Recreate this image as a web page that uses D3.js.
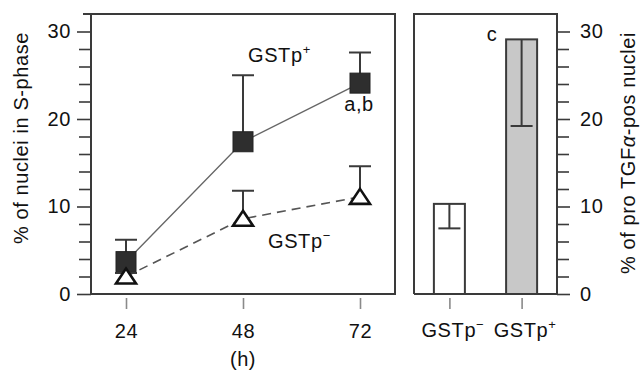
<!DOCTYPE html>
<html>
<head>
<meta charset="utf-8">
<script src="https://cdn.jsdelivr.net/npm/d3@7"></script>
<style>
  body { margin: 0; background: #fff; }
  svg text { font-family: "Liberation Sans", Arial, sans-serif; fill: #111; letter-spacing: 0.6px; }
</style>
</head>
<body>
<svg id="chart" width="640" height="372"></svg>
<script>
// time course (h) and S-phase values
const hours = [24, 48, 72];
const posMean = [3.7, 17.4, 24.1];   // GSTp+
const posUpper = [6.2, 25.0, 27.6];
const negMean = [2.0, 8.6, 11.1];    // GSTp-
const negUpper = [2.4, 11.8, 14.6];
// bar panel
const groups = ['GSTp−', 'GSTp+'];
const barMean = [10.3, 29.1];
const barLower = [7.5, 19.2];
const majorTicks = [0, 10, 20, 30];
const minorTicks = [2, 4, 6, 8, 12, 14, 16, 18, 22, 24, 26, 28];

const svg = d3.select('#chart');
const [yTop, yBottom] = [14, 294];
const y = d3.scaleLinear().domain([0, 32]).range([yBottom, yTop]);
const x = d3.scaleLinear().domain([24, 72]).range([126, 360]);
const xb = d3.scalePoint().domain(groups).range([414, 557]).padding(0.49);
const frame = '#3a3a3a';
const fs = 20;

// left y axis (minor + major)
const yl = svg.append('g').attr('transform', 'translate(91,0)');
yl.append('g').call(d3.axisLeft(y).tickValues(minorTicks).tickSize(12).tickFormat(''));
yl.append('g').call(d3.axisLeft(y).tickValues(majorTicks).tickSize(14).tickPadding(6));
// right y axis
const yr = svg.append('g').attr('transform', 'translate(557,0)');
yr.append('g').call(d3.axisRight(y).tickValues(minorTicks).tickSize(12).tickFormat(''));
yr.append('g').call(d3.axisRight(y).tickValues(majorTicks).tickSize(13).tickPadding(10));
svg.selectAll('.domain').remove();
svg.selectAll('.tick line').attr('stroke', frame).attr('stroke-width', 1.6);
svg.selectAll('.tick text').attr('font-size', fs).attr('font-family', null);

// bottom x ticks (grey)
const xa = svg.append('g').attr('transform', `translate(0,${yBottom + 4})`);
xa.call(d3.axisBottom(x).tickValues(hours).tickSize(11).tickPadding(15));
const xba = svg.append('g').attr('transform', `translate(0,${yBottom + 4})`);
xba.call(d3.axisBottom(xb).tickSize(11).tickPadding(15).tickFormat(''));
[xa, xba].forEach(g => {
  g.select('.domain').remove();
  g.selectAll('.tick line').attr('stroke', '#8a8a8a').attr('stroke-width', 1.6);
  g.selectAll('.tick text').attr('font-size', fs).attr('font-family', null);
});
// category labels with superscripts
xba.selectAll('.tick').append('text')
  .attr('y', 39).attr('x', 3).attr('text-anchor', 'middle').attr('font-size', fs)
  .each(function (d) {
    const t = d3.select(this);
    t.append('tspan').text('GSTp');
    t.append('tspan').attr('dy', -8).attr('font-size', 13).text(d.slice(-1));
  });

// panel frames
svg.append('path')
  .attr('d', `M83,${yTop}H395V${yBottom}H91V${yTop}`)
  .attr('fill', 'none').attr('stroke', frame).attr('stroke-width', 2);
svg.append('path')
  .attr('d', `M414,${yBottom}V${yTop}H557V${yBottom}H414`)
  .attr('fill', 'none').attr('stroke', frame).attr('stroke-width', 2);

// lines
const pos = hours.map((h, i) => [h, posMean[i]]);
const neg = hours.map((h, i) => [h, negMean[i]]);
const line = d3.line().x(d => x(d[0])).y(d => y(d[1]));
svg.append('path').attr('d', line(pos)).attr('fill', 'none')
  .attr('stroke', '#666').attr('stroke-width', 1.4);
svg.append('path').attr('d', line(neg)).attr('fill', 'none')
  .attr('stroke', '#555').attr('stroke-width', 1.6).attr('stroke-dasharray', '9,6');

// error bars (upper only)
function errUp(means, uppers) {
  hours.forEach((h, i) => {
    const cx = x(h);
    svg.append('line').attr('x1', cx).attr('x2', cx)
      .attr('y1', y(means[i])).attr('y2', y(uppers[i]))
      .attr('stroke', frame).attr('stroke-width', 2);
    svg.append('line').attr('x1', cx - 11).attr('x2', cx + 11)
      .attr('y1', y(uppers[i])).attr('y2', y(uppers[i]))
      .attr('stroke', frame).attr('stroke-width', 2);
  });
}
errUp(posMean, posUpper);
errUp(negMean, negUpper);

// markers
svg.selectAll('rect.pos').data(pos).join('rect').attr('class', 'pos')
  .attr('x', d => x(d[0]) - 10).attr('y', d => y(d[1]) - 10)
  .attr('width', 20).attr('height', 20)
  .attr('fill', '#2e2e2e').attr('stroke', '#222').attr('stroke-width', 1);
svg.selectAll('path.neg').data(neg).join('path').attr('class', 'neg')
  .attr('d', d => {
    const cx = x(d[0]), cy = y(d[1]);
    return `M${cx},${cy - 8}L${cx + 10},${cy + 7}L${cx - 10},${cy + 7}Z`;
  })
  .attr('fill', '#fff').attr('stroke', '#111').attr('stroke-width', 2.6)
  .attr('stroke-linejoin', 'miter');

// bars
svg.selectAll('rect.bar').data(groups).join('rect').attr('class', 'bar')
  .attr('x', d => xb(d) - 15.5).attr('width', 31)
  .attr('y', (d, i) => y(barMean[i])).attr('height', (d, i) => yBottom - y(barMean[i]))
  .attr('fill', (d, i) => i ? '#c8c8c8' : '#fff')
  .attr('stroke', frame).attr('stroke-width', 2);
groups.forEach((g, i) => {
  const cx = xb(g);
  svg.append('line').attr('x1', cx).attr('x2', cx)
    .attr('y1', y(barMean[i])).attr('y2', y(barLower[i]))
    .attr('stroke', frame).attr('stroke-width', 2);
  svg.append('line').attr('x1', cx - 11).attr('x2', cx + 11)
    .attr('y1', y(barLower[i])).attr('y2', y(barLower[i]))
    .attr('stroke', frame).attr('stroke-width', 2);
});

// annotations
function supLabel(tx, ty, sup) {
  const t = svg.append('text').attr('x', tx).attr('y', ty).attr('font-size', fs);
  t.append('tspan').text('GSTp');
  t.append('tspan').attr('dy', -8).attr('font-size', 13).text(sup);
}
supLabel(248, 62, '+');
supLabel(268, 248, '−');
svg.append('text').attr('x', 359).attr('y', 111).attr('text-anchor', 'middle')
  .attr('font-size', fs).text('a,b');
svg.append('text').attr('x', 492).attr('y', 41).attr('text-anchor', 'middle')
  .attr('font-size', fs).text('c');
svg.append('text').attr('x', 243).attr('y', 366).attr('text-anchor', 'middle')
  .attr('font-size', fs).text('(h)');

// axis titles
svg.append('text').attr('transform', 'translate(28,138) rotate(-90)')
  .attr('text-anchor', 'middle').attr('font-size', fs).text('% of nuclei in S-phase');
const rt = svg.append('text').attr('transform', 'translate(635,153) rotate(-90)')
  .attr('text-anchor', 'middle').attr('font-size', fs);
rt.append('tspan').text('% of pro TGF');
rt.append('tspan').attr('font-style', 'italic').text('α');
rt.append('tspan').text('-pos nuclei');
</script>
</body>
</html>
